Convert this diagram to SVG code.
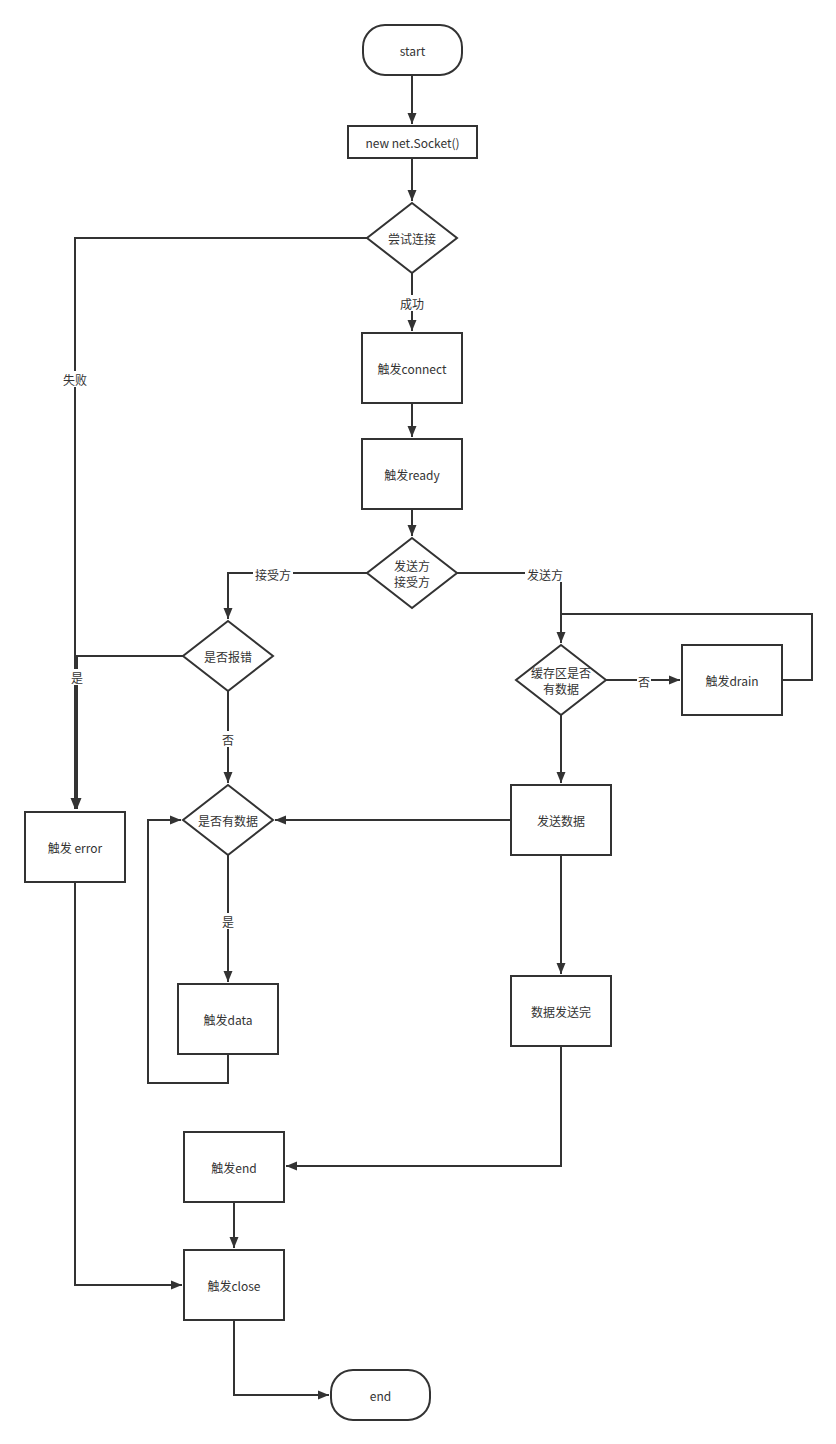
<svg xmlns="http://www.w3.org/2000/svg" width="836" height="1444" viewBox="0 0 836 1444">
<defs>
<marker id="arr" markerUnits="userSpaceOnUse" markerWidth="12" markerHeight="12" viewBox="0 0 12 12" refX="11" refY="6" orient="auto">
<path d="M0,1.5 L11,6 L0,10.5 Z" fill="#333"/>
</marker>
<style>
.n{fill:#fff;stroke:#333;stroke-width:2}
.e{fill:none;stroke:#333;stroke-width:2}
.t{font-family:"Noto Sans CJK SC","Noto Sans",sans-serif;font-size:12px;fill:#333;text-anchor:middle;dominant-baseline:central}
.bg{fill:#fff}
</style>
</defs>
<rect width="836" height="1444" fill="#fff"/>
<g id="edges">
<path class="e" d="M412,75 V124" marker-end="url(#arr)"/>
<path class="e" d="M412,158 V201" marker-end="url(#arr)"/>
<path class="e" d="M367,238 H75 V809" marker-end="url(#arr)"/>
<path class="e" d="M412,273 V331" marker-end="url(#arr)"/>
<path class="e" d="M412,403 V437" marker-end="url(#arr)"/>
<path class="e" d="M412,509 V536" marker-end="url(#arr)"/>
<path class="e" d="M367,573 H228 V619" marker-end="url(#arr)"/>
<path class="e" d="M457,573 H561 V643" marker-end="url(#arr)"/>
<path class="e" d="M183,656 H77 V809" marker-end="url(#arr)"/>
<path class="e" d="M228,691 V783" marker-end="url(#arr)"/>
<path class="e" d="M606,680 H680" marker-end="url(#arr)"/>
<path class="e" d="M782,680 H812 V614 H561"/>
<path class="e" d="M561,715 V783" marker-end="url(#arr)"/>
<path class="e" d="M511,820 H275" marker-end="url(#arr)"/>
<path class="e" d="M228,855 V982" marker-end="url(#arr)"/>
<path class="e" d="M228,1054 V1083 H148 V820 H181" marker-end="url(#arr)"/>
<path class="e" d="M561,855 V974" marker-end="url(#arr)"/>
<path class="e" d="M561,1046 V1166 H286" marker-end="url(#arr)"/>
<path class="e" d="M234,1202 V1248" marker-end="url(#arr)"/>
<path class="e" d="M75,882 V1285 H182" marker-end="url(#arr)"/>
<path class="e" d="M234,1320 V1395 H329" marker-end="url(#arr)"/>
<rect class="bg" x="398" y="295" width="28" height="16"/>
<text class="t" x="412" y="303">成功</text>
<rect class="bg" x="61" y="371" width="28" height="16"/>
<text class="t" x="75" y="379">失败</text>
<rect class="bg" x="253" y="566" width="40" height="16"/>
<text class="t" x="273" y="574">接受方</text>
<rect class="bg" x="525" y="566" width="40" height="16"/>
<text class="t" x="545" y="574">发送方</text>
<rect class="bg" x="71" y="669" width="13" height="16"/>
<text class="t" x="77" y="677">是</text>
<rect class="bg" x="221" y="731" width="14" height="16"/>
<text class="t" x="228" y="739">否</text>
<rect class="bg" x="637" y="673" width="14" height="16"/>
<text class="t" x="644" y="681">否</text>
<rect class="bg" x="221" y="913" width="14" height="16"/>
<text class="t" x="228" y="921">是</text>
</g>
<g id="start"><rect class="n" x="363" y="25" width="99" height="50" rx="22" ry="22"/><text class="t" x="412.5" y="50">start</text></g>
<g id="socket"><rect class="n" x="348" y="126" width="129" height="32"/><text class="t" x="412.5" y="142">new net.Socket()</text></g>
<g id="connect-try"><polygon class="n" points="412,203 457,238 412,273 367,238"/><text class="t" x="412" y="238">尝试连接</text></g>
<g id="connect"><rect class="n" x="362" y="333" width="100" height="70"/><text class="t" x="412" y="368">触发connect</text></g>
<g id="ready"><rect class="n" x="362" y="439" width="100" height="70"/><text class="t" x="412" y="474">触发ready</text></g>
<g id="role"><polygon class="n" points="412,538 457,573 412,608 367,573"/><text class="t" x="412" y="565">发送方</text><text class="t" x="412" y="581">接受方</text></g>
<g id="is-error"><polygon class="n" points="228,621 273,656 228,691 183,656"/><text class="t" x="228" y="656">是否报错</text></g>
<g id="has-data"><polygon class="n" points="228,785 273,820 228,855 183,820"/><text class="t" x="228" y="820">是否有数据</text></g>
<g id="data"><rect class="n" x="178" y="984" width="100" height="70"/><text class="t" x="228" y="1019">触发data</text></g>
<g id="buffer"><polygon class="n" points="561,645 606,680 561,715 516,680"/><text class="t" x="561" y="672">缓存区是否</text><text class="t" x="561" y="688">有数据</text></g>
<g id="drain"><rect class="n" x="682" y="645" width="100" height="70"/><text class="t" x="732" y="680">触发drain</text></g>
<g id="send"><rect class="n" x="511" y="785" width="100" height="70"/><text class="t" x="561" y="820">发送数据</text></g>
<g id="sent"><rect class="n" x="511" y="976" width="100" height="70"/><text class="t" x="561" y="1011">数据发送完</text></g>
<g id="error"><rect class="n" x="25" y="812" width="100" height="70"/><text class="t" x="75" y="847">触发 error</text></g>
<g id="end-ev"><rect class="n" x="184" y="1132" width="100" height="70"/><text class="t" x="234" y="1167">触发end</text></g>
<g id="close"><rect class="n" x="184" y="1250" width="100" height="70"/><text class="t" x="234" y="1285">触发close</text></g>
<g id="end"><rect class="n" x="331" y="1370" width="99" height="50" rx="22" ry="22"/><text class="t" x="380.5" y="1395">end</text></g>
</svg>
